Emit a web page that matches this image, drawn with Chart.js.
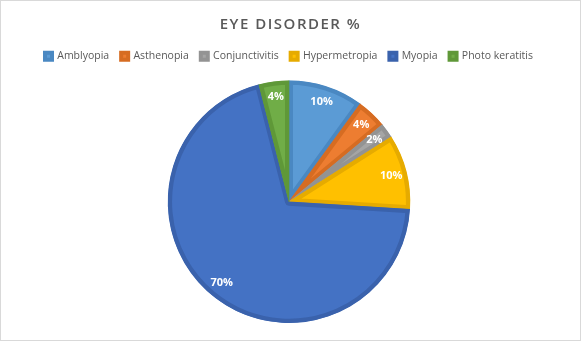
<!DOCTYPE html>
<html>
<head>
<meta charset="utf-8">
<script src="https://cdn.jsdelivr.net/npm/chart.js@4/dist/chart.umd.min.js"></script>
<style>
    html, body { margin: 0; padding: 0; background: #fff; }
    #wrap {
        position: relative;
        width: 581px;
        height: 341px;
        box-sizing: border-box;
        border: 1px solid #d9d9d9;
    }
</style>
</head>
<body>
<div id="wrap"><canvas id="eyeChart"></canvas></div>
<script>
// Chart data
const disorderLabels = ['Amblyopia', 'Asthenopia', 'Conjunctivitis', 'Hypermetropia', 'Myopia', 'Photo keratitis'];
const disorderPercent = [10, 4, 2, 10, 70, 4];
const chartTitle = 'EYE DISORDER %';

// Excel style palette
const fillColors = ['#5B9BD5', '#ED7D31', '#A5A5A5', '#FFC000', '#4472C4', '#70AD47'];
const edgeColors = ['#4a88c2', '#d66c22', '#939393', '#e6ab00', '#3a62ac', '#5f9838'];

const fontFamily = '"Open Sans", "Liberation Sans", sans-serif';

// Draw the title with a little letter spacing (Excel look)
const titlePlugin = {
    id: 'spacedTitle',
    afterDraw(chart) {
        const ctx = chart.ctx;
        ctx.save();
        ctx.font = '600 15px ' + fontFamily;
        ctx.fillStyle = '#595959';
        ctx.textAlign = 'center';
        ctx.textBaseline = 'middle';
        if ('letterSpacing' in ctx) ctx.letterSpacing = '1.5px';
        ctx.fillText(chartTitle, chart.width / 2, 24);
        ctx.restore();
    }
};

// Extra room under the legend
const legendGap = {
    id: 'legendGap',
    beforeInit(chart) {
        const origFit = chart.legend.fit;
        chart.legend.fit = function() {
            origFit.bind(chart.legend)();
            this.height += 9;
        };
    }
};

// Percent labels inside the slices
const sliceLabels = {
    id: 'sliceLabels',
    afterDatasetsDraw(chart) {
        const ctx = chart.ctx;
        const meta = chart.getDatasetMeta(0);
        ctx.save();
        ctx.font = 'bold 11px ' + fontFamily;
        ctx.fillStyle = '#ffffff';
        ctx.textAlign = 'center';
        ctx.textBaseline = 'middle';
        meta.data.forEach((arc, i) => {
            const p = arc.getProps(['x', 'y', 'startAngle', 'endAngle', 'outerRadius'], true);
            const mid = (p.startAngle + p.endAngle) / 2;
            const r = p.outerRadius * 0.87;
            ctx.fillText(disorderPercent[i] + '%', p.x + Math.cos(mid) * r, p.y + Math.sin(mid) * r);
        });
        ctx.restore();
    }
};

new Chart(document.getElementById('eyeChart'), {
    type: 'pie',
    data: {
        labels: disorderLabels,
        datasets: [{
            data: disorderPercent,
            backgroundColor: fillColors,
            borderColor: edgeColors,
            borderWidth: 4,
            borderAlign: 'inner'
        }]
    },
    options: {
        responsive: true,
        maintainAspectRatio: false,
        animation: false,
        layout: {
            padding: { top: 38, bottom: 17, left: 0, right: 3 }
        },
        plugins: {
            title: { display: false },
            tooltip: { enabled: false },
            legend: {
                position: 'top',
                labels: {
                    boxWidth: 7,
                    boxHeight: 7,
                    padding: 12,
                    color: '#595959',
                    font: { family: fontFamily, size: 10.5 }
                }
            }
        }
    },
    plugins: [titlePlugin, legendGap, sliceLabels]
});
</script>
</body>
</html>
